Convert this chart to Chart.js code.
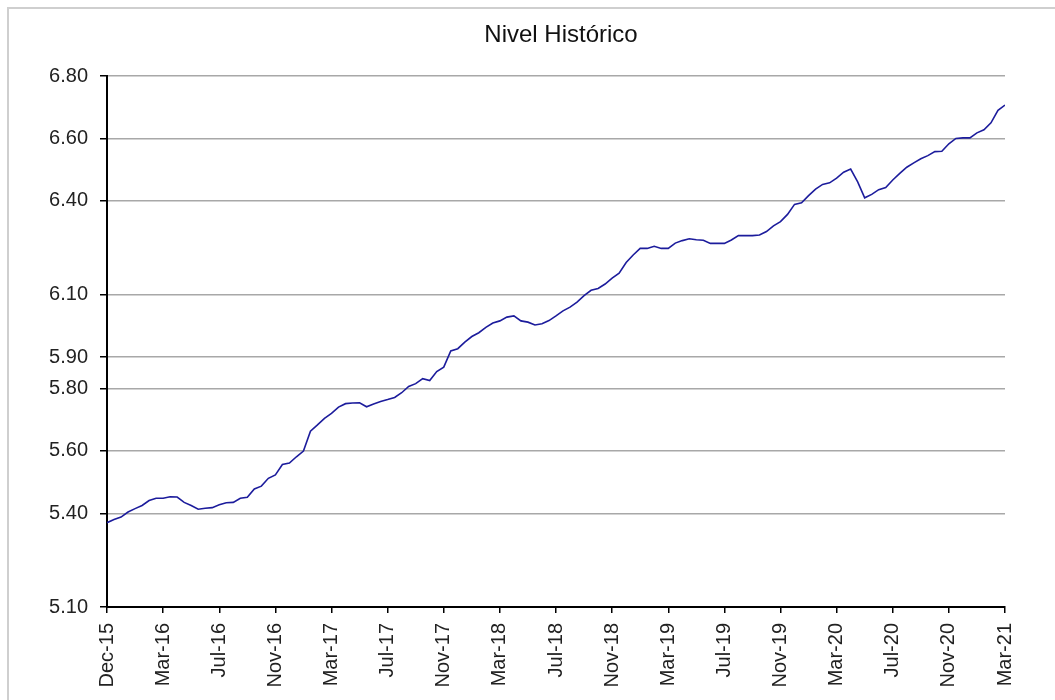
<!DOCTYPE html>
<html><head><meta charset="utf-8">
<script src="https://cdn.jsdelivr.net/npm/chart.js@4"></script>
<style>
html,body{margin:0;padding:0;background:#fff;overflow:hidden}
#wrap{position:relative;width:1055px;height:700px;overflow:hidden}
#frame{position:absolute;left:7px;top:7px;width:1100px;height:750px;border-left:2px solid #cfcfcf;border-top:2px solid #cfcfcf}
canvas{position:absolute;left:0;top:0}
</style></head><body>
<div id="wrap"><div id="frame"></div><canvas id="c" width="1055" height="700"></canvas></div>
<script>
const chartTitle = 'Nivel Histórico';
const tickLabels = ['Dec-15','Mar-16','Jul-16','Nov-16','Mar-17','Jul-17','Nov-17','Mar-18','Jul-18','Nov-18','Mar-19','Jul-19','Nov-19','Mar-20','Jul-20','Nov-20','Mar-21'];
const yTickValues = [5.10,5.40,5.60,5.80,5.90,6.10,6.40,6.60,6.80];
const values = [
5.370,5.380,5.388,5.404,5.415,5.425,5.441,5.448,
5.448,5.453,5.452,5.435,5.425,5.413,5.416,5.418,
5.427,5.434,5.435,5.448,5.451,5.478,5.487,5.512,
5.523,5.556,5.561,5.581,5.599,5.663,5.683,5.704,
5.720,5.740,5.751,5.753,5.754,5.741,5.750,5.758,
5.764,5.771,5.786,5.806,5.815,5.831,5.825,5.854,
5.868,5.920,5.927,5.948,5.966,5.978,5.995,6.009,
6.016,6.028,6.032,6.016,6.012,6.003,6.007,6.017,
6.032,6.048,6.060,6.076,6.097,6.114,6.120,6.134,
6.153,6.169,6.203,6.227,6.248,6.248,6.255,6.248,
6.248,6.265,6.273,6.279,6.276,6.274,6.264,6.264,
6.264,6.275,6.289,6.289,6.289,6.291,6.302,6.320,
6.334,6.357,6.389,6.394,6.417,6.438,6.453,6.458,
6.473,6.492,6.502,6.461,6.410,6.421,6.436,6.443,
6.467,6.488,6.508,6.522,6.535,6.545,6.558,6.559,
6.583,6.600,6.602,6.602,6.618,6.628,6.650,6.690,
6.707];
const pointsPerTick = 8;

const FONT = "'Liberation Sans', Arial, sans-serif";
const points = values.map((v, i) => ({ x: i / pointsPerTick, y: v }));

const titlePlugin = {
  id: 'plotTitle',
  afterDraw(chart) {
    const { ctx, chartArea } = chart;
    ctx.save();
    ctx.font = '24px ' + FONT;
    ctx.fillStyle = '#111';
    ctx.textAlign = 'center';
    ctx.textBaseline = 'middle';
    ctx.fillText(chartTitle, (chartArea.left + chartArea.right) / 2 + 5, 35);
    ctx.restore();
  }
};

new Chart(document.getElementById('c'), {
  type: 'line',
  data: { datasets: [{ data: points, borderColor: '#1c1c9c', borderWidth: 1.6, pointRadius: 0, tension: 0, fill: false }] },
  options: {
    responsive: false, animation: false, devicePixelRatio: 1,
    layout: { padding: { left: 0, right: 50, top: 76, bottom: 0 } },
    plugins: { legend: { display: false }, tooltip: { enabled: false }, title: { display: false } },
    scales: {
      x: {
        type: 'linear', min: 0, max: tickLabels.length - 1,
        afterFit: s => { s.height = 93; },
        ticks: { stepSize: 1, autoSkip: false, minRotation: 90, maxRotation: 90, padding: 10, color: '#222',
                 font: { family: FONT, size: 20 }, callback: v => tickLabels[v] },
        grid: { drawOnChartArea: false, color: '#000', lineWidth: 1.5, tickLength: 6 },
        border: { color: '#000', width: 2 }
      },
      y: {
        type: 'linear', min: 5.1, max: 6.8,
        afterFit: s => { s.width = 107; },
        afterBuildTicks: s => { s.ticks = yTickValues.map(v => ({ value: v })); },
        ticks: { padding: 12, color: '#222', font: { family: FONT, size: 20 }, callback: v => Number(v).toFixed(2) },
        grid: { color: '#a8a8a8', lineWidth: 1.5, tickColor: '#000', tickLength: 7 },
        border: { color: '#000', width: 2 }
      }
    }
  },
  plugins: [titlePlugin]
});
</script>
</body></html>
